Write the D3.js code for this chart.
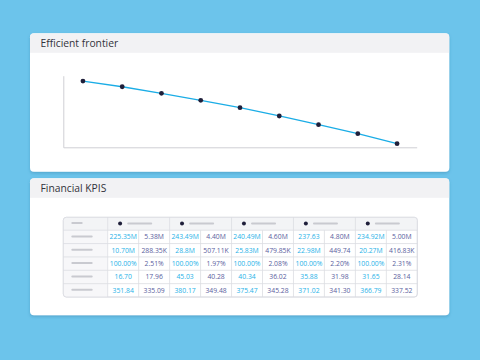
<!DOCTYPE html>
<html><head><meta charset="utf-8">
<script src="https://cdn.jsdelivr.net/npm/d3@7"></script>
<style>html,body{margin:0;padding:0;background:#6dc4ea;}svg{display:block;}</style>
</head><body>
<script>
// ---- data ----
const frontierIndex = [0,1,2,3,4,5,6,7,8];
const frontierValues = [111, 101.5, 90.5, 78.7, 66.4, 52.5, 38, 22.9, 6.0];
const kpiRows = [0,1,2,3,4];
const group1 = [["225.35M","5.38M"],["10.70M","288.35K"],["100.00%","2.51%"],["16.70","17.96"],["351.84","335.09"]];
const group2 = [["243.49M","4.40M"],["28.8M","507.11K"],["100.00%","1.97%"],["45.03","40.28"],["380.17","349.48"]];
const group3 = [["240.49M","4.60M"],["25.83M","479.85K"],["100.00%","2.08%"],["40.34","36.02"],["375.47","345.28"]];
const group4 = [["237.63","4.80M"],["22.98M","449.74"],["100.00%","2.20%"],["35.88","31.98"],["371.02","341.30"]];
const group5 = [["234.92M","5.00M"],["20.27M","416.83K"],["100.00%","2.31%"],["31.65","28.14"],["366.79","337.52"]];
const groups = [group1, group2, group3, group4, group5];

const W = 480, H = 360;
const font = "Open Sans, Lato, sans-serif";
const svg = d3.select("body").append("svg").attr("width", W).attr("height", H);
svg.append("rect").attr("width", W).attr("height", H).attr("fill", "#6cc4eb");

const defs = svg.append("defs");
const f = defs.append("filter").attr("id","sh").attr("x","-5%").attr("y","-5%").attr("width","110%").attr("height","115%");
f.append("feDropShadow").attr("dx",0).attr("dy",1.5).attr("stdDeviation",1.5).attr("flood-color","#2a6f95").attr("flood-opacity",0.35);

function card(x, y, w, h, title) {
  const g = svg.append("g");
  g.append("rect").attr("x",x).attr("y",y).attr("width",w).attr("height",h).attr("rx",4).attr("fill","#fff").attr("filter","url(#sh)");
  const cp = "cp" + Math.round(y);
  defs.append("clipPath").attr("id",cp).append("rect").attr("x",x).attr("y",y).attr("width",w).attr("height",h).attr("rx",4);
  g.append("rect").attr("x",x).attr("y",y).attr("width",w).attr("height",19.5).attr("fill","#f2f2f4").attr("clip-path",`url(#${cp})`);
  g.append("text").attr("x",x+10.5).attr("y",y+13.3).attr("font-family",font).attr("font-size",10.3).attr("fill","#33333b").text(title);
}

card(30, 33.3, 419.3, 138.4, "Efficient frontier");
card(30, 178.3, 419.3, 137, "Financial KPIS");

// ---- chart ----
const x = d3.scalePoint().domain(frontierIndex).range([63.3, 416.7]).padding(0.5);
const y = d3.scaleLinear().domain([0, 120]).range([147.3, 75.7]);

const xa = svg.append("g").attr("transform","translate(0,147.3)").call(d3.axisBottom(x).tickValues([]).tickSizeOuter(0));
const ya = svg.append("g").attr("transform","translate(63.3,0)").call(d3.axisLeft(y).tickValues([]).tickSizeOuter(0));
[xa, ya].forEach(a => a.select(".domain").attr("stroke","#cfcfd4").attr("stroke-width",1));

svg.append("path").datum(frontierIndex)
  .attr("d", d3.line().x(i => x(i)).y(i => y(frontierValues[i])))
  .attr("fill","none").attr("stroke","#1badE6").attr("stroke-width",1.3);
svg.selectAll("circle.pt").data(frontierIndex).join("circle").attr("class","pt")
  .attr("cx", i => x(i)).attr("cy", i => y(frontierValues[i])).attr("r", 2.4).attr("fill","#1f1f3a");

// ---- table ----
const tL = 63.3, tR = 417.3, tT = 217.3, tB = 297, labW = 44.4, headH = 12.9;
const rowH = (tB - tT - headH) / kpiRows.length;
const gx = d3.scaleBand().domain(d3.range(groups.length)).range([tL + labW, tR]);
const ry = d3.scaleBand().domain(kpiRows).range([tT + headH, tB]);
const tg = svg.append("g");
tg.append("rect").attr("x",tL).attr("y",tT).attr("width",tR-tL).attr("height",tB-tT).attr("rx",3).attr("fill","#fff").attr("stroke","#dcdde2").attr("stroke-width",0.8);
tg.append("path").attr("d",`M${tL},${tT+headH} V${tT+3} Q${tL},${tT} ${tL+3},${tT} H${tR-3} Q${tR},${tT} ${tR},${tT+3} V${tT+headH} Z`).attr("fill","#f3f4f6");
tg.append("path").attr("d",`M${tL},${tT+headH} H${tL+labW} V${tB} H${tL+3} Q${tL},${tB} ${tL},${tB-3} Z`).attr("fill","#f7f7f9");
tg.selectAll("line.r").data(kpiRows).join("line").attr("class","r")
  .attr("x1",tL).attr("x2",tR).attr("y1",r => ry(r)).attr("y2",r => ry(r)).attr("stroke","#dcdde2").attr("stroke-width",0.8);
tg.selectAll("line.c").data(d3.range(groups.length)).join("line").attr("class","c")
  .attr("x1",i => gx(i)).attr("x2",i => gx(i)).attr("y1",tT).attr("y2",tB).attr("stroke","#dcdde2").attr("stroke-width",0.8);
tg.selectAll("line.s").data(d3.range(groups.length)).join("line").attr("class","s")
  .attr("x1",i => gx(i)+gx.bandwidth()/2).attr("x2",i => gx(i)+gx.bandwidth()/2).attr("y1",tT+headH).attr("y2",tB).attr("stroke","#dcdde2").attr("stroke-width",0.8);
tg.append("rect").attr("x",tL).attr("y",tT).attr("width",tR-tL).attr("height",tB-tT).attr("rx",3).attr("fill","none").attr("stroke","#d8d9df").attr("stroke-width",0.8);
tg.append("line").attr("x1",72.3).attr("x2",81.7).attr("y1",tT+5.6).attr("y2",tT+5.6).attr("stroke","#c9cad0").attr("stroke-width",2).attr("stroke-linecap","round");
groups.forEach((g, i) => {
  tg.append("circle").attr("cx",gx(i)+12.4).attr("cy",tT+6.3).attr("r",2).attr("fill","#1f1f3a");
  tg.append("line").attr("x1",gx(i)+20.5).attr("x2",gx(i)+43.5).attr("y1",tT+6.3).attr("y2",tT+6.3).attr("stroke","#c9cad0").attr("stroke-width",2).attr("stroke-linecap","round");
});
kpiRows.forEach(r => {
  tg.append("line").attr("x1",72.3).attr("x2",91.7).attr("y1",ry(r)+rowH/2-0.5).attr("y2",ry(r)+rowH/2-0.5).attr("stroke","#c9cad0").attr("stroke-width",2).attr("stroke-linecap","round");
});
groups.forEach((g, i) => {
  const bw = gx.bandwidth()/2;
  kpiRows.forEach(r => {
    [0,1].forEach(k => {
      tg.append("text").attr("x", gx(i) + bw*k + bw/2).attr("y", ry(r) + rowH/2 + 2.4)
        .attr("text-anchor","middle").attr("font-family",font).attr("font-size",6.8)
        .attr("fill", k === 0 ? "#27b2e8" : "#5a5e9e").text(g[r][k]);
    });
  });
});
</script>
</body></html>
